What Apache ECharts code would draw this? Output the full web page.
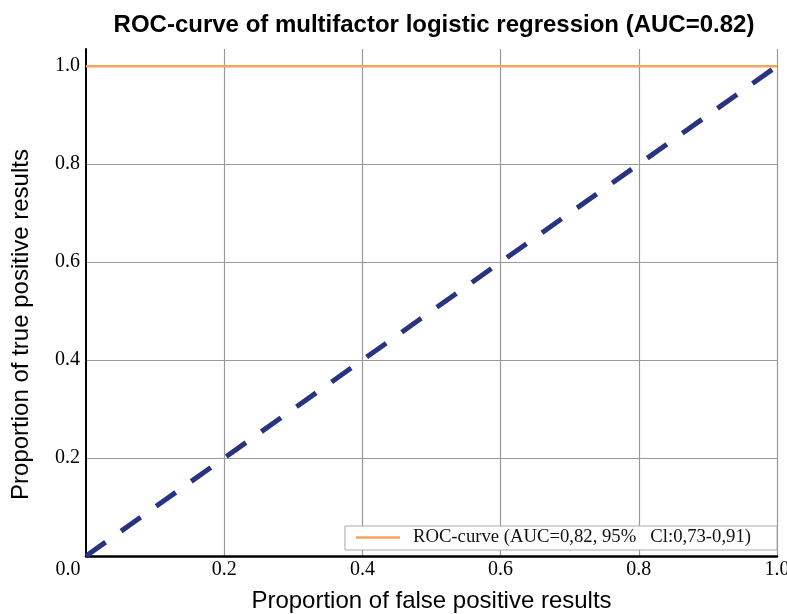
<!DOCTYPE html>
<html>
<head>
<meta charset="utf-8">
<script src="https://cdn.jsdelivr.net/npm/echarts@6/dist/echarts.min.js"></script>
<style>
    html, body { margin: 0; padding: 0; background: #fff; }
    #chart { width: 787px; height: 614px; }
</style>
</head>
<body>
<div id="chart"></div>
<script>
const xTicks = [0, 0.2, 0.4, 0.6, 0.8, 1.0]
const yTicks = [0.2, 0.4, 0.6, 0.8, 1.0]
const rocName = 'ROC-curve (AUC=0,82, 95%   Cl:0,73-0,91)'
const rocPoints = [[0, 1], [1, 1]]
const chancePoints = [[0, 0], [1, 1]]

const serif = '"Liberation Serif", "Times New Roman", serif'
const sans = '"Liberation Sans", Arial, sans-serif'

const myChart = echarts.init(document.getElementById('chart'))
myChart.setOption({
    animation: false,
    title: {
        text: 'ROC-curve of multifactor logistic regression (AUC=0.82)',
        left: 429,
        top: 8,
        textAlign: 'center',
        textStyle: { fontFamily: sans, fontSize: 24, fontWeight: 'bold', color: '#000' }
    },
    grid: { left: 86, right: 10, top: 49, bottom: 58, outerBoundsMode: 'none', containLabel: false },
    legend: {
        right: 10,
        bottom: 64,
        orient: 'horizontal',
        icon: 'rect',
        itemWidth: 44,
        itemHeight: 2.5,
        padding: [2, 26, 3, 11],
        borderColor: '#aaa',
        borderWidth: 1,
        borderRadius: 0,
        backgroundColor: '#fff',
        data: [rocName],
        formatter: name => '{a|' + name + '}',
        textStyle: {
            fontFamily: serif,
            fontSize: 18.7,
            color: '#111',
            rich: { a: { fontFamily: serif, fontSize: 18.7, color: '#111', padding: [0, 0, 0, 8] } }
        }
    },
    xAxis: {
        type: 'value',
        min: 0,
        max: 1,
        interval: 0.2,
        name: 'Proportion of false positive results',
        nameLocation: 'middle',
        nameGap: 33,
        nameTextStyle: { fontFamily: sans, fontSize: 24, color: '#000' },
        axisLine: { lineStyle: { color: '#000', width: 2.5 } },
        axisTick: { show: false },
        axisLabel: {
            margin: 4,
            fontFamily: serif,
            fontSize: 20,
            color: '#000',
            formatter: v => {
                const s = v.toFixed(1)
                return xTicks[0] === v ? '{m|' + s + '}' : s
            },
            rich: { m: { fontFamily: serif, fontSize: 20, color: '#000', padding: [0, 36, 0, 0] } }
        },
        splitLine: { show: true, showMinLine: false, lineStyle: { color: '#999', width: 1.2 } }
    },
    yAxis: {
        type: 'value',
        min: 0,
        max: 1.035,
        interval: 0.2,
        name: 'Proportion of true positive results',
        nameLocation: 'middle',
        nameGap: 53,
        nameTextStyle: { fontFamily: sans, fontSize: 24, color: '#000', padding: [0, 44, 0, 0] },
        axisLine: { show: true, lineStyle: { color: '#000', width: 2 } },
        axisTick: { show: false },
        axisLabel: {
            margin: 6,
            fontFamily: serif,
            fontSize: 20,
            color: '#000',
            showMinLabel: false,
            showMaxLabel: false,
            formatter: v => yTicks.some(t => Math.abs(t - v) < 1e-6) ? v.toFixed(1) : ''
        },
        splitLine: { show: true, showMinLine: false, showMaxLine: false, lineStyle: { color: '#999', width: 1.2 } }
    },
    series: [
        {
            name: rocName,
            type: 'line',
            data: rocPoints,
            symbol: 'none',
            lineStyle: { color: '#f5a65b', width: 2.5 },
            itemStyle: { color: '#f5a65b' },
            z: 3
        },
        {
            name: 'chance',
            type: 'line',
            data: chancePoints,
            symbol: 'none',
            lineStyle: { color: '#28347f', width: 5, type: [24, 19], cap: 'butt' },
            z: 2
        }
    ]
})
</script>
</body>
</html>
